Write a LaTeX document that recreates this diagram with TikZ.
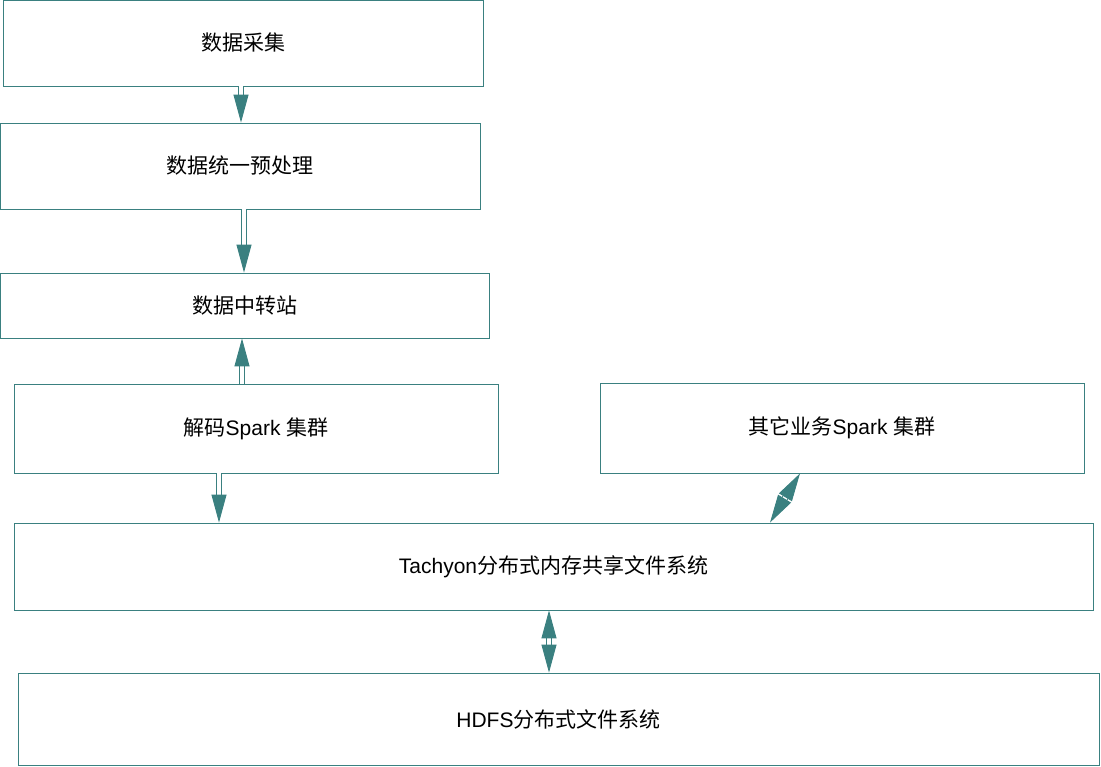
\documentclass[tikz,border=0pt]{standalone}
\usepackage{fontspec}
\setmainfont{Liberation Sans}
\newfontfamily\cjk{Noto Sans CJK SC}
\usetikzlibrary{arrows.meta}
\definecolor{tealline}{RGB}{58,128,128}
\newcommand{\zh}[1]{{\cjk #1}}
\tikzset{
    box/.style={draw=tealline, line width=0.8pt, rectangle, inner sep=0pt,
        font=\fontsize{21}{25}\selectfont},
    link/.style={draw=tealline, line width=0.9pt, double=white, double distance=4.5pt,
        -{Triangle[length=28pt,width=15pt,fill=tealline]}},
    biglink/.style={link, {Triangle[length=28pt,width=15pt,fill=tealline]}-{Triangle[length=28pt,width=15pt,fill=tealline]}}
}
\begin{document}
\begin{tikzpicture}[x=1pt, y=-1pt]
\useasboundingbox (0,0) rectangle (1101,767);
% boxes
\node[box, minimum width=480pt, minimum height=86pt] (collect) at (243,43) {\zh{数据采集}};
\node[box, minimum width=480pt, minimum height=86pt] (prep) at (240,166) {\zh{数据统一预处理}};
\node[box, minimum width=489pt, minimum height=65pt] (relay) at (244.5,305.5) {\zh{数据中转站}};
\node[box, minimum width=484pt, minimum height=89pt] (decode) at (256,428.5) {\zh{解码}Spark \zh{集群}};
\node[box, minimum width=484pt, minimum height=90pt] (other) at (842,428) {\zh{其它业务}Spark \zh{集群}};
\node[box, minimum width=1079pt, minimum height=87pt] (tachyon) at (553.5,566.5) {Tachyon\zh{分布式内存共享文件系统}};
\node[box, minimum width=1081pt, minimum height=92pt] (hdfs) at (558.5,719) {HDFS\zh{分布式文件系统}};
% arrows
\draw[link] ([xshift=-2pt]collect.south) -- ([xshift=1pt]prep.north);
\draw[link] ([xshift=4pt]prep.south) -- ([xshift=-0.5pt]relay.north);
\draw[link] ([xshift=-14pt]decode.north) -- ([xshift=-2.5pt]relay.south);
\draw[link] ([xshift=-37pt]decode.south) -- ([xshift=-334.5pt]tachyon.north);
\draw[biglink] ([xshift=-42pt]other.south) -- ([xshift=216.5pt]tachyon.north);
\draw[biglink] ([xshift=-4.5pt]tachyon.south) -- ([xshift=-9.5pt]hdfs.north);
\end{tikzpicture}
\end{document}
